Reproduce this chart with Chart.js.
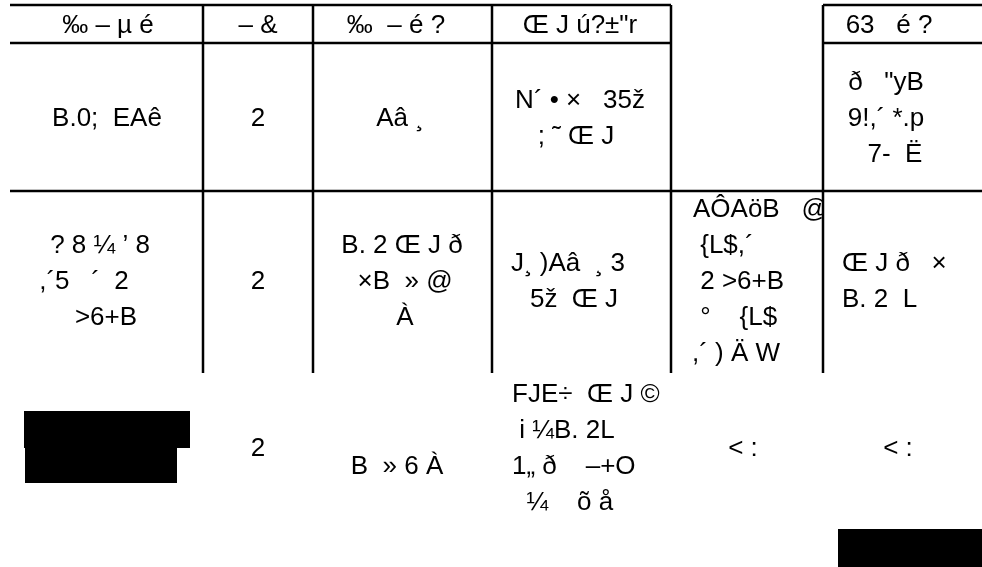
<!DOCTYPE html>
<html><head><meta charset="utf-8">
<script src="https://cdn.jsdelivr.net/npm/chart.js@4.4.1/dist/chart.umd.min.js"></script>
<style>html,body{margin:0;padding:0;background:#fff;}#wrap{width:982px;height:567px;}</style>
</head><body><div id="wrap"><canvas id="c"></canvas></div>
<script>
// ---- table content ----
const headers = ["‰ – µ é", "– &", "‰  – é ?", "Œ J ú?±\"r", "", "63   é ?"];
const row1 = [["B.0;  EAê"], ["2"], ["Aâ ¸"], ["N´ • ×   35ž", "; ˜ Œ J"], [], ["ð   \"yB", "9!,´ *.p", "7-  Ë"]];
const row2 = [["? 8 ¼ ’ 8", ",´5   ´  2", ">6+B"], ["2"], ["B. 2 Œ J ð", "×B  » @", "À"], ["J¸ )Aâ  ¸ 3", "5ž  Œ J"], ["AÔAöB   @", " {L$,´", " 2 >6+B", " °    {L$", ",´ ) Ä W"], ["Œ J ð   ×", "B. 2  L"]];
const row3 = [[null, null], ["2"], ["", "B  » 6 À"], ["FJE÷  Œ J ©", " i ¼B. 2L", "1„ ð    –+O", "  ¼    õ å"], ["< :"], ["< :"]];
const rowsData = [row1, row2, row3];

// ---- layout (pixel space of the hidden linear scales) ----
const L = {
  font: '26px "Liberation Sans", Arial, sans-serif',
  lineH: 36, capHalf: 9.3,
  hdr: {top: 5, bottom: 43},
  rowCenters: [117, 280, 447],
  hLines: [[5, 10, 671], [5, 823, 982], [43, 10, 671], [43, 823, 982], [191, 10, 982]],
  vLines: [[203, 5, 373], [313, 5, 373], [492, 5, 373], [671, 5, 373], [823, 5, 373]],
  clip: {1: {4: [671, 823]}},
  hdrX: [108, 258, 396, 580, null, 889],
  cellX: [
    [[107], [258], [400], [580, 576], [], [886, 886, 895]],
    [[100, 84, 106], [258], [402, 405, 405], [568, 574], {l: [693, 693, 693, 693, 692]}, {l: [842, 842]}],
    [[null], [258], [0, 397], {l: [512, 512, 512, 512]}, [743], [898]]
  ],
  boxes: [[24, 190, 411, 448], [25, 177, 448, 483], [838, 982, 529, 567]]
};

const tablePlugin = {
  id: 'table',
  afterDraw(chart) {
    const ctx = chart.ctx, xs = chart.scales.x, ys = chart.scales.y;
    const X = v => xs.getPixelForValue(v), Y = v => ys.getPixelForValue(v);
    ctx.save();
    ctx.strokeStyle = '#000'; ctx.lineWidth = 2.5; ctx.lineCap = 'butt';
    L.hLines.forEach(([y, x0, x1]) => { ctx.beginPath(); ctx.moveTo(X(x0), Y(y)); ctx.lineTo(X(x1), Y(y)); ctx.stroke(); });
    L.vLines.forEach(([x, y0, y1]) => { ctx.beginPath(); ctx.moveTo(X(x), Y(y0)); ctx.lineTo(X(x), Y(y1)); ctx.stroke(); });
    ctx.fillStyle = '#000';
    L.boxes.forEach(([x0, x1, y0, y1]) => ctx.fillRect(X(x0), Y(y0), X(x1) - X(x0), Y(y1) - Y(y0)));
    ctx.font = L.font; ctx.textBaseline = 'alphabetic';
    // header
    const hc = (L.hdr.top + L.hdr.bottom) / 2;
    headers.forEach((t, i) => {
      if (!t) return;
      ctx.textAlign = 'center';
      ctx.fillText(t, X(L.hdrX[i]), Y(hc + L.capHalf));
    });
    // body
    rowsData.forEach((row, r) => {
      row.forEach((lines, c) => {
        const spec = L.cellX[r][c];
        const n = lines.length;
        ctx.save();
        const cl = L.clip[r] && L.clip[r][c];
        if (cl) { ctx.beginPath(); ctx.rect(X(cl[0]), 0, X(cl[1]) - X(cl[0]) - 1, chart.height); ctx.clip(); }
        lines.forEach((t, i) => {
          if (!t) return;
          const cy = L.rowCenters[r] + (i - (n - 1) / 2) * L.lineH;
          let x, align;
          if (Array.isArray(spec)) { x = spec[Math.min(i, spec.length - 1)]; align = 'center'; }
          else { x = spec.l[i]; align = 'left'; }
          ctx.textAlign = align;
          ctx.fillText(t, X(x), Y(cy + L.capHalf));
        });
        ctx.restore();
      });
    });
    ctx.restore();
  }
};

new Chart(document.getElementById('c'), {
  type: 'scatter',
  data: { datasets: [{ data: [] }] },
  options: {
    responsive: true, maintainAspectRatio: false, animation: false,
    layout: { padding: 0 },
    plugins: { legend: { display: false }, tooltip: { enabled: false } },
    scales: {
      x: { type: 'linear', min: 0, max: 982, display: false },
      y: { type: 'linear', min: 0, max: 567, reverse: true, display: false }
    }
  },
  plugins: [tablePlugin]
});
</script>
</body></html>
